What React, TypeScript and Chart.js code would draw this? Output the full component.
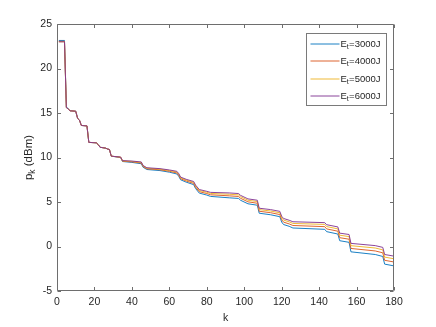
import React, { useEffect, useRef } from 'react';
import { Chart, registerables } from 'chart.js';

Chart.register(...registerables);

// ---- data ----
const K = [1, 4, 5, 6, 7, 10, 11, 12, 13, 16, 17, 21, 22, 23, 26, 27, 28, 29, 34, 35, 40, 45, 46, 48, 55, 60, 64, 65, 66, 69, 73, 74, 76, 80, 82, 92, 97, 98, 102, 107, 108, 114, 119, 120, 121, 124, 126, 143, 144, 150, 151, 156, 157, 170, 174, 175, 180];

const P3000 = [23.15, 23.15, 15.7, 15.45, 15.25, 15.2, 14.4, 14.2, 13.6, 13.55, 11.7, 11.65, 11.45, 11.15, 11.05, 10.95, 10.9, 10.15, 10.0, 9.55, 9.45, 9.3, 8.9, 8.65, 8.53, 8.35, 8.15, 7.9, 7.5, 7.23, 6.95, 6.52, 6.0, 5.78, 5.63, 5.47, 5.4, 5.2, 4.8, 4.64, 3.74, 3.57, 3.35, 2.75, 2.47, 2.27, 2.08, 1.93, 1.67, 1.4, 0.65, 0.47, -0.6, -0.9, -1.12, -1.98, -2.18];
const P4000 = [23.05, 23.05, 15.62, 15.45, 15.25, 15.2, 14.4, 14.2, 13.6, 13.55, 11.7, 11.65, 11.45, 11.15, 11.05, 10.95, 10.9, 10.15, 10.02, 9.59, 9.51, 9.38, 8.98, 8.73, 8.62, 8.45, 8.27, 8.02, 7.62, 7.36, 7.09, 6.67, 6.16, 5.95, 5.81, 5.69, 5.62, 5.42, 5.02, 4.86, 3.96, 3.8, 3.59, 3.01, 2.74, 2.54, 2.36, 2.23, 1.98, 1.72, 0.99, 0.82, -0.22, -0.5, -0.71, -1.55, -1.74];
const P5000 = [23.0, 23.0, 15.6, 15.45, 15.25, 15.2, 14.4, 14.2, 13.6, 13.55, 11.7, 11.65, 11.45, 11.15, 11.05, 10.95, 10.9, 10.15, 10.04, 9.62, 9.56, 9.45, 9.05, 8.8, 8.69, 8.53, 8.37, 8.12, 7.72, 7.46, 7.21, 6.8, 6.29, 6.09, 5.96, 5.87, 5.8, 5.6, 5.2, 5.05, 4.15, 3.99, 3.79, 3.22, 2.97, 2.77, 2.59, 2.48, 2.24, 1.98, 1.27, 1.11, 0.09, -0.17, -0.38, -1.19, -1.38];
const P6000 = [23.0, 23.0, 15.6, 15.45, 15.25, 15.2, 14.4, 14.2, 13.6, 13.55, 11.7, 11.65, 11.45, 11.15, 11.05, 10.95, 10.9, 10.15, 10.05, 9.65, 9.6, 9.5, 9.1, 8.85, 8.75, 8.6, 8.45, 8.2, 7.8, 7.55, 7.3, 6.9, 6.4, 6.2, 6.08, 6.02, 5.95, 5.75, 5.35, 5.2, 4.3, 4.15, 3.95, 3.4, 3.15, 2.95, 2.78, 2.68, 2.45, 2.2, 1.5, 1.35, 0.35, 0.1, -0.1, -0.9, -1.08];

const SERIES_ENERGY = ['3000J', '4000J', '5000J', '6000J'];
const SERIES_VALUES = [P3000, P4000, P5000, P6000];
const SERIES_COLORS = ['#0072BD', '#D95319', '#EDB120', '#7E2F8E'];

const X_TICKS = [0, 20, 40, 60, 80, 100, 120, 140, 160, 180];
const Y_TICKS = [-5, 0, 5, 10, 15, 20, 25];

const FONT = '"Liberation Sans", Arial, Helvetica, sans-serif';
const TEXT_COLOR = '#262626';
const AXIS_COLOR = '#6e6e6e';

const decorPlugin = {
  id: 'decor',
  afterDatasetsDraw(chart: any) {
    const { ctx, chartArea: a, scales } = chart;
    const L = Math.round(a.left) + 0.5;
    const R = Math.round(a.right) - 0.5;
    const T = Math.round(a.top) + 0.5;
    const B = Math.round(a.bottom) - 0.5;
    ctx.save();
    ctx.strokeStyle = AXIS_COLOR;
    ctx.lineWidth = 1;
    ctx.beginPath();
    ctx.rect(L, T, R - L, B - T);
    const tl = 3.5;
    X_TICKS.forEach((v) => {
      const px = Math.round(scales.x.getPixelForValue(v)) + 0.5;
      ctx.moveTo(px, B); ctx.lineTo(px, B - tl);
      ctx.moveTo(px, T); ctx.lineTo(px, T + tl);
    });
    Y_TICKS.forEach((v) => {
      const py = Math.round(scales.y.getPixelForValue(v)) + 0.5;
      ctx.moveTo(L, py); ctx.lineTo(L + tl, py);
      ctx.moveTo(R, py); ctx.lineTo(R - tl, py);
    });
    ctx.stroke();

    // x title
    ctx.fillStyle = TEXT_COLOR;
    ctx.font = `10.5px ${FONT}`;
    ctx.textAlign = 'center';
    ctx.textBaseline = 'alphabetic';
    ctx.fillText('k', (a.left + a.right) / 2, 320.5);

    // y title: p_k (dBm)
    ctx.save();
    ctx.translate(31.5, (a.top + a.bottom) / 2);
    ctx.rotate(-Math.PI / 2);
    ctx.textAlign = 'left';
    const big = `11.5px ${FONT}`;
    const small = `8.5px ${FONT}`;
    ctx.font = big; const w1 = ctx.measureText('p').width;
    ctx.font = small; const w2 = ctx.measureText('k').width;
    ctx.font = big; const w3 = ctx.measureText(' (dBm)').width;
    let x0 = -(w1 + w2 + w3) / 2;
    ctx.font = big; ctx.fillText('p', x0, 0); x0 += w1;
    ctx.font = small; ctx.fillText('k', x0, 3); x0 += w2;
    ctx.font = big; ctx.fillText(' (dBm)', x0, 0);
    ctx.restore();

    // legend
    const bx = Math.round(a.right - 8.5) + 0.5;
    const by = Math.round(a.top + 8.5) + 0.5;
    const bw = 80;
    const bh = 72;
    ctx.fillStyle = '#ffffff';
    ctx.fillRect(bx - bw, by, bw, bh);
    ctx.strokeStyle = '#7a7a7a';
    ctx.lineWidth = 1;
    ctx.strokeRect(bx - bw, by, bw, bh);
    SERIES_ENERGY.forEach((en, i) => {
      const ry = Math.round(by + 10 + i * 17.6);
      ctx.strokeStyle = SERIES_COLORS[i];
      ctx.lineWidth = 0.9;
      ctx.beginPath();
      ctx.moveTo(bx - bw + 4, ry);
      ctx.lineTo(bx - bw + 33, ry);
      ctx.stroke();
      ctx.fillStyle = TEXT_COLOR;
      ctx.textBaseline = 'middle';
      ctx.textAlign = 'left';
      let tx = bx - bw + 34;
      ctx.font = `9.5px ${FONT}`;
      ctx.fillText('E', tx, ry);
      tx += ctx.measureText('E').width;
      ctx.font = `7px ${FONT}`;
      ctx.fillText('t', tx, ry + 3.5);
      tx += ctx.measureText('t').width + 0.3;
      ctx.font = `9.5px ${FONT}`;
      ctx.fillText('=' + en, tx, ry);
    });
    ctx.restore();
  },
};

export default function App() {
  const ref = useRef<HTMLCanvasElement | null>(null);
  useEffect(() => {
    if (!ref.current) return;
    const chart = new Chart(ref.current, {
      type: 'line',
      data: {
        datasets: SERIES_VALUES.map((vals, i) => ({
          label: 'E_t=' + SERIES_ENERGY[i],
          data: K.map((k, j) => ({ x: k, y: vals[j] })),
          borderColor: SERIES_COLORS[i],
          backgroundColor: SERIES_COLORS[i],
          borderWidth: 0.9,
          pointRadius: 0,
          tension: 0,
          fill: false,
          order: 4 - i,
        })),
      },
      options: {
        animation: false,
        responsive: false,
        layout: { padding: { top: 24, right: 42, left: 0, bottom: 0 } },
        plugins: { legend: { display: false }, tooltip: { enabled: false } },
        scales: {
          x: {
            type: 'linear',
            min: 0,
            max: 180,
            grid: { display: false, drawTicks: false },
            border: { display: false },
            ticks: { padding: 5, color: TEXT_COLOR, font: { family: FONT, size: 10.5 }, maxRotation: 0 },
            afterBuildTicks: (s: any) => { s.ticks = X_TICKS.map((v) => ({ value: v })); },
            afterFit: (s: any) => { s.height = 36; },
          },
          y: {
            type: 'linear',
            min: -5,
            max: 25,
            grid: { display: false, drawTicks: false },
            border: { display: false },
            ticks: { padding: 5, color: TEXT_COLOR, font: { family: FONT, size: 10.5 } },
            afterBuildTicks: (s: any) => { s.ticks = Y_TICKS.map((v) => ({ value: v })); },
            afterFit: (s: any) => { s.width = 57; },
          },
        },
      },
      plugins: [decorPlugin],
    } as any);
    return () => chart.destroy();
  }, []);
  return (
    <div style={{ position: 'fixed', left: 0, top: 0, width: 436, height: 327, background: '#fff' }}>
      <canvas ref={ref} width={436} height={327} style={{ width: 436, height: 327, display: 'block' }} />
    </div>
  );
}
